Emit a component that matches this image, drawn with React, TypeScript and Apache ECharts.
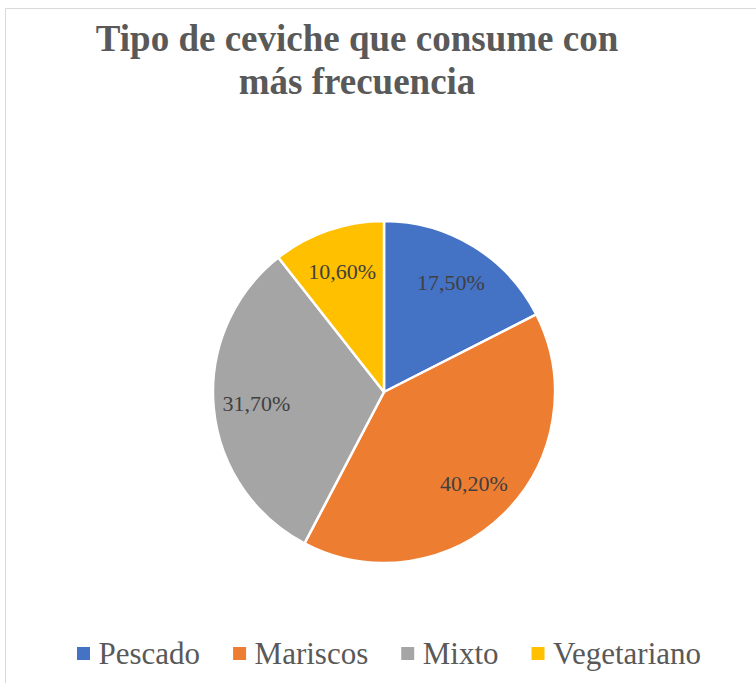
import React, { useEffect, useRef } from "react";
import * as echarts from "echarts";

const titleLines = ["Tipo de ceviche que consume con", "más frecuencia"];
const categories = ["Pescado", "Mariscos", "Mixto", "Vegetariano"];
const values = [17.5, 40.2, 31.7, 10.6];
const colors = ["#4472C4", "#ED7D31", "#A5A5A5", "#FFC000"];

const fmt = (v: number) => v.toFixed(2).replace(".", ",") + "%";

export default function App() {
  const ref = useRef<HTMLDivElement>(null);
  useEffect(() => {
    if (!ref.current) return;
    const chart = echarts.init(ref.current, undefined, { renderer: "svg" });
    const data = categories.map((name, i) => ({
      name,
      value: values[i],
      itemStyle: { color: colors[i] },
    }));
    const serif = "'Liberation Serif', 'Times New Roman', serif";
    chart.setOption({
      animation: false,
      backgroundColor: "#ffffff",
      graphic: [
        {
          type: "rect",
          shape: { x: 5.5, y: 8.5, width: 900, height: 900 },
          style: { fill: "none", stroke: "#d9d9d9", lineWidth: 1 },
          silent: true,
        },
        ...titleLines.map((t, i) => ({
          type: "text",
          x: 357,
          y: 38 + i * 43,
          style: {
            text: t,
            align: "center",
            verticalAlign: "middle",
            font: `bold 37px ${serif}`,
            fill: "#595959",
          },
          silent: true,
        })),
      ],
      legend: {
        data: categories,
        left: 70,
        top: 633,
        itemWidth: 15,
        itemHeight: 15,
        itemGap: 31,
        icon: "rect",
        textStyle: {
          fontFamily: serif,
          fontSize: 31,
          color: "#595959",
          padding: [0, 0, 0, 2.5],
        },
      },
      series: [
        {
          type: "pie",
          center: [384, 392],
          radius: 171,
          startAngle: 90,
          clockwise: true,
          data,
          label: { show: false },
          labelLine: { show: false },
          itemStyle: { borderColor: "#ffffff", borderWidth: 2.5 },
          emphasis: { disabled: true },
        },
        {
          type: "pie",
          center: [384, 392],
          radius: [79, 171],
          startAngle: 90,
          clockwise: true,
          silent: true,
          data: categories.map((name, i) => ({
            name,
            value: values[i],
            itemStyle: { color: "rgba(0,0,0,0)" },
          })),
          label: {
            show: true,
            position: "inside",
            formatter: (p: any) => fmt(p.value),
            fontFamily: serif,
            fontSize: 22,
            color: "#404040",
          },
          labelLine: { show: false },
          emphasis: { disabled: true },
          legendHoverLink: false,
        },
      ],
    });
    return () => chart.dispose();
  }, []);
  return (
    <div
      ref={ref}
      style={{ position: "fixed", left: 0, top: 0, width: 756, height: 683 }}
    />
  );
}
